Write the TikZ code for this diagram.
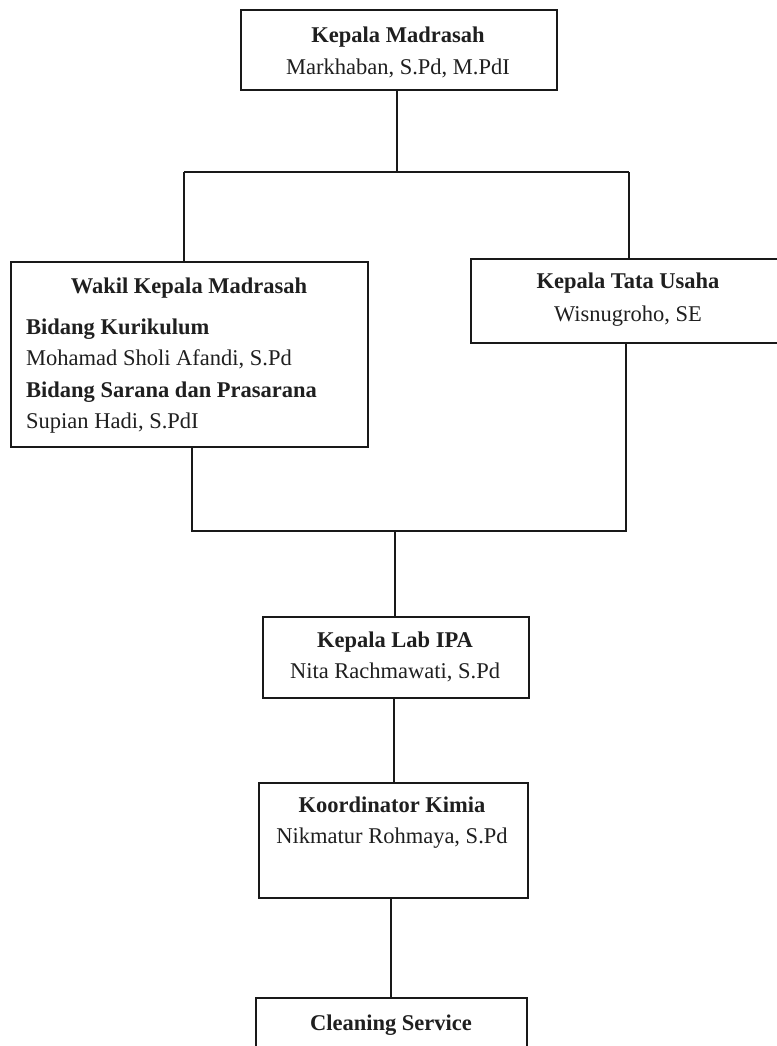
\documentclass[tikz,border=0pt]{standalone}
\usepackage{fontspec}
\setmainfont{Liberation Serif}
\begin{document}
\begin{tikzpicture}[x=1pt,y=-1pt,
  box/.style={draw=black!90,line width=1.6pt,rectangle,inner sep=0pt,anchor=north west},
  conn/.style={draw=black!90,line width=1.6pt},
  txt/.style={inner sep=0pt,anchor=base,text=black!88,font=\fontsize{22.5}{27}\selectfont},
  txtl/.style={txt,anchor=base west}]
\useasboundingbox (0,0) rectangle (776,1046);
\fill[white] (0,0) rectangle (776,1046);
% boxes
\node[box,minimum width=316pt,minimum height=80pt] (kepala) at (240,9) {};
\node[box,minimum width=357pt,minimum height=185pt] (wakil) at (10,261) {};
\node[box,minimum width=317pt,minimum height=84pt] (tu) at (470,258) {};
\node[box,minimum width=266pt,minimum height=81pt] (lab) at (262,616) {};
\node[box,minimum width=269pt,minimum height=115pt] (koor) at (258,782) {};
\node[box,minimum width=271pt,minimum height=100pt] (clean) at (255,997) {};
% texts
\node[txt] (t1) at (398,43) {\bfseries Kepala Madrasah};
\node[txt] (t2) at (398,75) {Markhaban, S.Pd, M.PdI};
\node[txt] (t3) at (189,293) {\bfseries Wakil Kepala Madrasah};
\node[txtl] (t4) at (26,334) {\bfseries Bidang Kurikulum};
\node[txtl] (t5) at (26,365) {Mohamad Sholi Afandi, S.Pd};
\node[txtl] (t6) at (26,397) {\bfseries Bidang Sarana dan Prasarana};
\node[txtl] (t7) at (26,428) {Supian Hadi, S.PdI};
\node[txt] (t8) at (628,288) {\bfseries Kepala Tata Usaha};
\node[txt] (t9) at (628,321) {Wisnugroho, SE};
\node[txt] (t10) at (395,647) {\bfseries Kepala Lab IPA};
\node[txt] (t11) at (395,678) {Nita Rachmawati, S.Pd};
\node[txt] (t12) at (392,812) {\bfseries Koordinator Kimia};
\node[txt] (t13) at (392,843) {Nikmatur Rohmaya, S.Pd};
\node[txt] (t14) at (391,1030) {\bfseries Cleaning Service};
% junctions
\coordinate (jt) at (397,172);
\coordinate (hl) at (184,172);
\coordinate (hr) at (629,172);
\coordinate (bl) at (192,531);
\coordinate (br) at (626,531);
\coordinate (bm) at (395,531);
% connectors
\draw[conn] (kepala.south -| jt) -- (jt);
\draw[conn] (hl) -- (hr);
\draw[conn] (hl) -- (hl |- wakil.north);
\draw[conn] (hr) -- (hr |- tu.north);
\draw[conn] (bl |- wakil.south) -- (bl) -- (br) -- (br |- tu.south);
\draw[conn] (bm) -- (bm |- lab.north);
\draw[conn] (lab.south -| 394,0) -- (koor.north -| 394,0);
\draw[conn] (koor.south -| 391,0) -- (clean.north -| 391,0);
\end{tikzpicture}
\end{document}
